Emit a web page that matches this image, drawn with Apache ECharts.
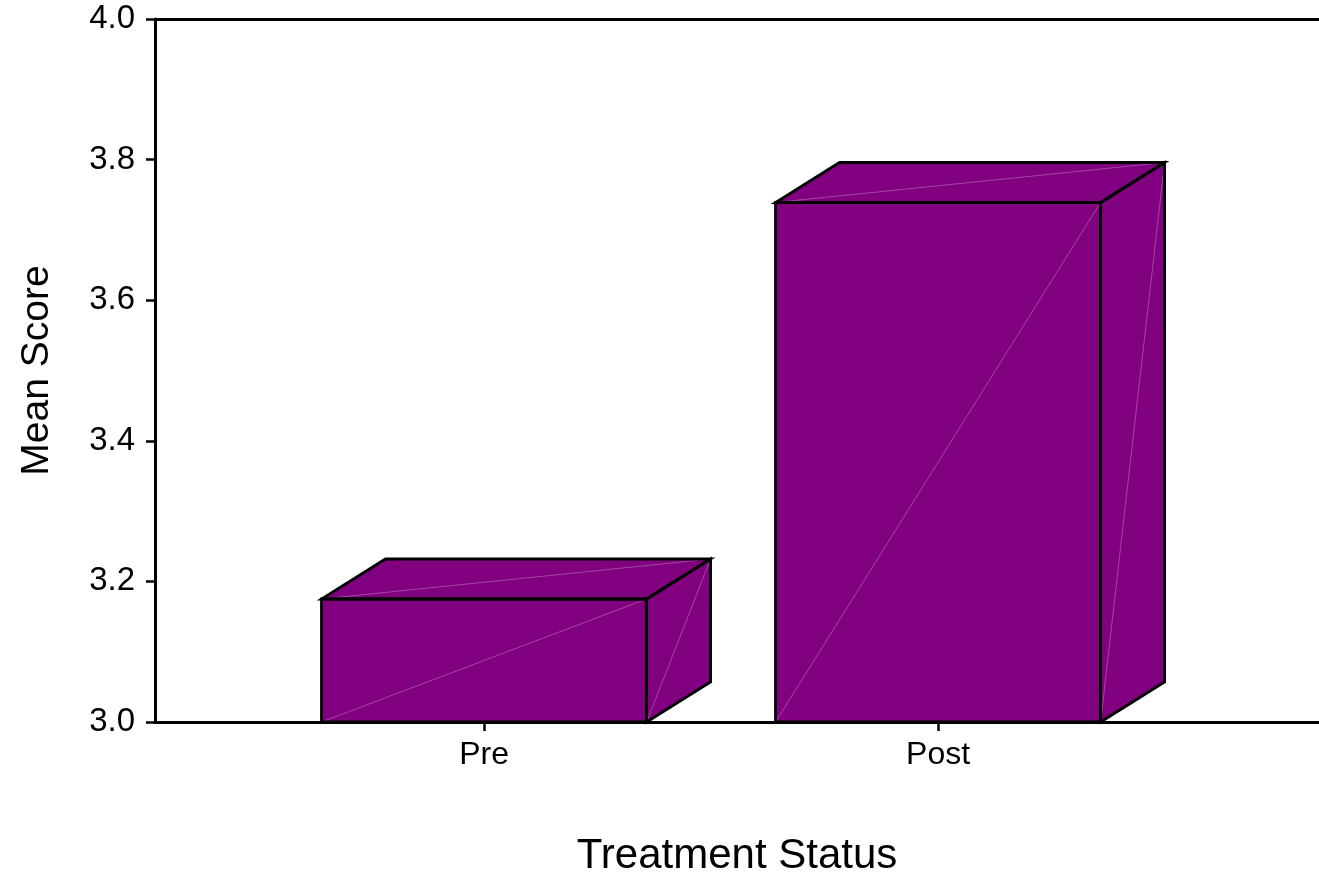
<!DOCTYPE html>
<html>
<head>
<meta charset="utf-8">
<script src="https://cdn.jsdelivr.net/npm/echarts@6/dist/echarts.min.js"></script>
<style>
html,body{margin:0;padding:0;background:#fff;}
#chart{width:1319px;height:882px;}
</style>
</head>
<body>
<div id="chart"></div>
<script>
// ---- data ----
const categories = ['Pre', 'Post'];
const meanScores = [3.175, 3.739];
const yMin = 3.0;
const yMax = 4.0;
const yInterval = 0.2;
const xTitle = 'Treatment Status';
const yTitle = 'Mean Score';

// ---- style constants ----
const FONT = '"Liberation Sans", Arial, Helvetica, sans-serif';
const FILL = '#800080';
const HALF = 0.358;      // half bar width in x-axis units
const DEPTH_X = 64;      // 3D depth offset (px)
const DEPTH_Y = -40;

const catPositions = categories.map((c, i) => i + 1);
const seriesData = categories.map((c, i) => [catPositions[i], meanScores[i]]);

const chart = echarts.init(document.getElementById('chart'), null, {renderer: 'canvas'});

function renderItem(params, api) {
  const x = api.value(0), v = api.value(1);
  const bl = api.coord([x - HALF, yMin]);
  const tr = api.coord([x + HALF, v]);
  const L = bl[0], B = bl[1], R = tr[0], T = tr[1];
  const dx = DEPTH_X, dy = DEPTH_Y;
  const front = [[L, B], [R, B], [R, T], [L, T]];
  const top = [[L, T], [R, T], [R + dx, T + dy], [L + dx, T + dy]];
  const side = [[R, B], [R + dx, B + dy], [R + dx, T + dy], [R, T]];
  const fillStyle = {fill: FILL, stroke: null};
  const lineStyle = {fill: null, stroke: '#000', lineWidth: 2.8, lineJoin: 'miter'};
  const seam = {stroke: 'rgba(255,255,255,0.35)', lineWidth: 0.8};
  const children = [];
  [side, top, front].forEach(p => children.push({type: 'polygon', shape: {points: p}, style: fillStyle}));
  children.push({type: 'line', shape: {x1: L, y1: B, x2: R, y2: T}, style: seam});
  children.push({type: 'line', shape: {x1: L, y1: T, x2: R + dx, y2: T + dy}, style: seam});
  children.push({type: 'line', shape: {x1: R, y1: B, x2: R + dx, y2: T + dy}, style: seam});
  [side, top, front].forEach(p => children.push({type: 'polygon', shape: {points: p}, style: lineStyle}));
  return {type: 'group', children: children};
}

const option = {
  backgroundColor: '#fff',
  animation: false,
  grid: {left: 155, right: 0, top: 19, bottom: 159, containLabel: false},
  xAxis: [{
    type: 'value',
    min: 0.2753,
    max: 2.839,
    splitLine: {show: false},
    axisLine: {show: true, lineStyle: {color: '#000', width: 3}},
    axisTick: {show: true, length: 9, customValues: catPositions, lineStyle: {color: '#000', width: 2.5}},
    axisLabel: {
      show: true, customValues: catPositions, margin: 17,
      fontFamily: FONT, fontSize: 32, color: '#000',
      formatter: v => categories[Math.round(v) - 1] || ''
    },
    name: xTitle,
    nameLocation: 'middle',
    nameGap: 113,
    nameTextStyle: {fontFamily: FONT, fontSize: 42, color: '#000'}
  }, {
    type: 'value',
    position: 'top',
    min: 0.2753,
    max: 2.839,
    splitLine: {show: false},
    axisLine: {show: true, lineStyle: {color: '#000', width: 3}},
    axisTick: {show: false},
    axisLabel: {show: false}
  }],
  yAxis: {
    type: 'value',
    min: yMin,
    max: yMax,
    interval: yInterval,
    splitLine: {show: false},
    axisLine: {show: true, lineStyle: {color: '#000', width: 3}},
    axisTick: {show: true, length: 9, lineStyle: {color: '#000', width: 2.5}},
    axisLabel: {
      margin: 20, fontFamily: FONT, fontSize: 33, color: '#000',
      padding: [8, 0, 0, 0],
      formatter: v => v.toFixed(1)
    },
    name: yTitle,
    nameLocation: 'middle',
    nameGap: 98,
    nameTextStyle: {fontFamily: FONT, fontSize: 39, color: '#000'}
  },
  series: [{
    type: 'custom',
    xAxisIndex: 0,
    yAxisIndex: 0,
    renderItem: renderItem,
    data: seriesData,
    clip: false
  }]
};
chart.setOption(option);
</script>
</body>
</html>
